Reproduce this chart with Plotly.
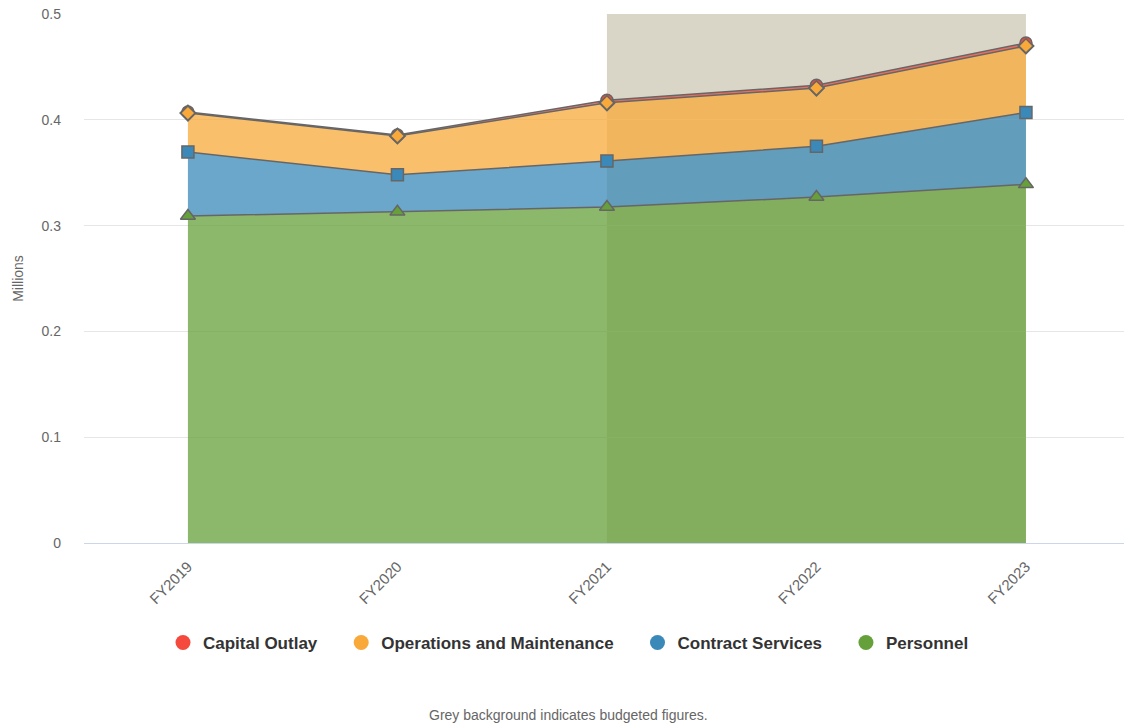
import plotly.graph_objects as go

# Data (millions)
years = ['FY2019', 'FY2020', 'FY2021', 'FY2022', 'FY2023']
personnel = [0.309, 0.313, 0.3175, 0.327, 0.339]
contract_services = [0.0606, 0.035, 0.0435, 0.048, 0.068]
operations_maintenance = [0.0368, 0.0367, 0.055, 0.055, 0.0628]
capital_outlay = [0.0009, 0.0009, 0.0025, 0.0026, 0.0028]

budget_start = 'FY2021'
budget_end = 'FY2023'

# name, values, colour, fill, marker symbol, size (bottom of the stack first)
series = [
    ('Personnel', personnel, '#66a03a', 'rgba(102,160,58,0.75)', 'triangle-up', 13),
    ('Contract Services', contract_services, '#3a89b8', 'rgba(58,137,184,0.75)', 'square', 12),
    ('Operations and Maintenance', operations_maintenance, '#f8a93a', 'rgba(248,169,58,0.75)', 'diamond', 12),
    ('Capital Outlay', capital_outlay, '#f4493c', 'rgba(244,73,60,0.75)', 'circle', 12),
]

fig = go.Figure()

for name, vals, color, fill, symbol, size in series:
    fig.add_trace(go.Scatter(
        x=years, y=vals, name=name, legendgroup=name, showlegend=False,
        stackgroup='one', mode='lines+markers',
        line=dict(color='#666666', width=1.5),
        fillcolor=fill,
        marker=dict(symbol=symbol, size=size, color=color,
                    line=dict(color='#666666', width=1.5)),
        hoverinfo='x+y+name',
    ))

# O&M diamonds sit on top of the capital circles in the original
om_top = [p + c + o for p, c, o in zip(personnel, contract_services, operations_maintenance)]
fig.add_trace(go.Scatter(
    x=years, y=om_top, mode='markers', showlegend=False, hoverinfo='skip',
    marker=dict(symbol='diamond', size=11, color='#f8a93a',
                line=dict(color='#666666', width=1.5)),
))

# legend entries (circles), top of stack first
pad = '\u00a0' * 4
for name, vals, color, fill, symbol, size in reversed(series):
    fig.add_trace(go.Scatter(
        x=[None], y=[None], name=name + pad, legendgroup=name, mode='markers',
        marker=dict(symbol='circle', size=15, color=color),
    ))

# grey band for budgeted years
fig.add_shape(type='rect', xref='x', yref='paper',
              x0=years.index(budget_start), x1=years.index(budget_end),
              y0=0, y1=1, fillcolor='#d9d6c7', line=dict(width=0), layer='below')

fig.add_annotation(text='Grey background indicates budgeted figures.',
                   xref='paper', yref='paper', x=(568 - 84) / 1040, y=-(715 - 543) / 529,
                   yanchor='middle', showarrow=False, font=dict(size=14, color='#666666'))

fig.update_layout(
    width=1124, height=726,
    margin=dict(l=84, r=0, t=14, b=183),
    paper_bgcolor='white', plot_bgcolor='white',
    font=dict(family='Liberation Sans, Arial, sans-serif', color='#666666'),
    showlegend=True,
    legend=dict(orientation='h', x=(578 - 84) / 1040, xanchor='center',
                y=-(643 - 543) / 529, yanchor='middle',
                font=dict(size=17, color='#333333', weight='bold'),
                itemsizing='trace', itemwidth=30),
    xaxis=dict(
        type='category', range=[-0.496, 4.468],
        tickangle=-45, tickfont=dict(size=15, color='#666666'), ticklabelstandoff=8,
        showgrid=False, showline=True, linecolor='#ccd6eb', linewidth=1,
        zeroline=False, ticks='',
    ),
    yaxis=dict(
        range=[0, 0.5], dtick=0.1, tickformat='.1~f',
        gridcolor='#e6e6e6', zeroline=False, showline=False,
        tickfont=dict(size=14, color='#666666'), ticklabelstandoff=22,
        title=dict(text='Millions', font=dict(size=14, color='#666666'), standoff=14),
    ),
)

# drop the default 8px body margin so the figure sits at the page origin
fig.write_html('out.html', config={'displayModeBar': False},
               post_script="document.body.style.margin='0';")
